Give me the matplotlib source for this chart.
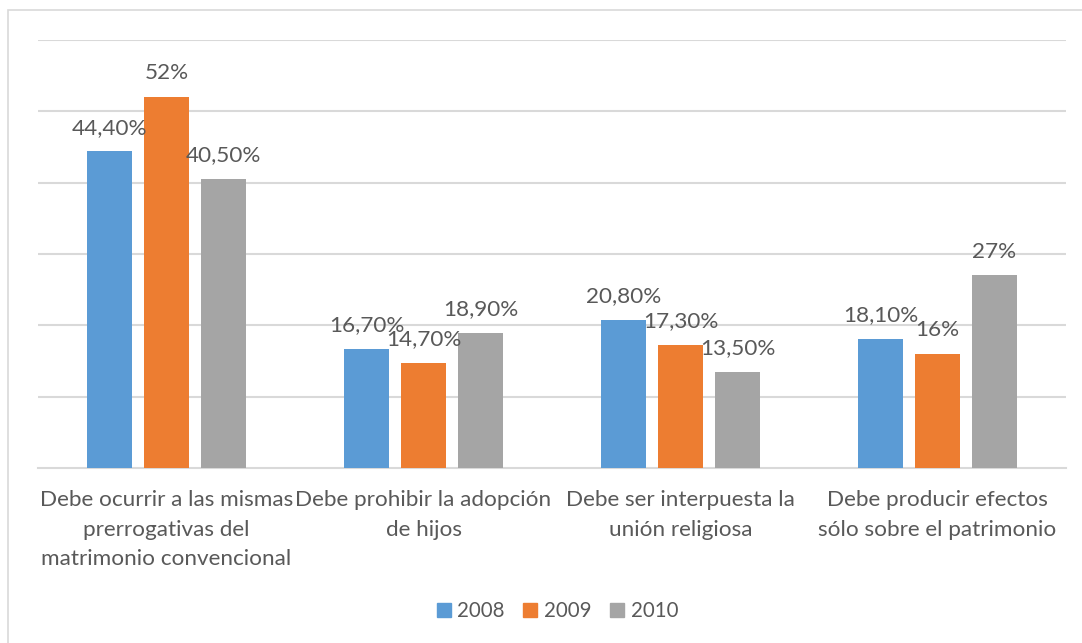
import matplotlib
matplotlib.use("Agg")
import matplotlib.pyplot as plt
from matplotlib.lines import Line2D
from matplotlib.patches import Rectangle

categories = [
    "Debe ocurrir a las mismas\nprerrogativas del\nmatrimonio convencional",
    "Debe prohibir la adopción\nde hijos",
    "Debe ser interpuesta la\nunión religiosa",
    "Debe producir efectos\nsólo sobre el patrimonio",
]
series_names = ["2008", "2009", "2010"]
values_2008 = [44.4, 16.7, 20.8, 18.1]
values_2009 = [52.0, 14.7, 17.3, 16.0]
values_2010 = [40.5, 18.9, 13.5, 27.0]
labels_2008 = ["44,40%", "16,70%", "20,80%", "18,10%"]
labels_2009 = ["52%", "14,70%", "17,30%", "16%"]
labels_2010 = ["40,50%", "18,90%", "13,50%", "27%"]

colors = ["#5B9BD5", "#ED7D31", "#A5A5A5"]
text_color = "#595959"
grid_color = "#D9D9D9"
FONT = "Lato"
FS = 16.2
FS_LEG = 14.8

W, H = 1082, 643
fig = plt.figure(figsize=(W / 100, H / 100), dpi=100)
fig.patch.set_facecolor("white")

# outer chart border (cropped on right/bottom)
fig.patches.append(Rectangle((8 / W, -0.1), 1.2, (H - 10) / H + 0.1,
                             transform=fig.transFigure, fill=False,
                             edgecolor=grid_color, linewidth=1.2))

ax = fig.add_axes([38 / W, (H - 468) / H, 1028 / W, 428 / H])
ax.set_xlim(-0.5, 3.5)
ax.set_ylim(0, 60)
for s in ["top", "right", "left"]:
    ax.spines[s].set_visible(False)
ax.spines["bottom"].set_color(grid_color)
ax.spines["bottom"].set_linewidth(1.5)
ax.set_yticks([10, 20, 30, 40, 50, 60])
ax.yaxis.grid(True, color=grid_color, linewidth=1.5)
ax.set_axisbelow(True)
ax.tick_params(axis="y", left=False, labelleft=False)

bw = 0.175
off = 0.222
data = [values_2008, values_2009, values_2010]
labs = [labels_2008, labels_2009, labels_2010]
for i, (vals, lab) in enumerate(zip(data, labs)):
    xs = [c + (i - 1) * off for c in range(len(categories))]
    ax.bar(xs, vals, width=bw, color=colors[i], zorder=3)
    for x, v, t in zip(xs, vals, lab):
        ax.annotate(t, (x, v), xytext=(0, 17), textcoords="offset points",
                    ha="center", va="center", fontsize=FS, color=text_color,
                    family=FONT, zorder=4)

ax.set_xticks(range(len(categories)))
ax.set_xticklabels(categories, fontsize=FS, color=text_color, family=FONT,
                   linespacing=1.58, va="top")
ax.tick_params(axis="x", bottom=False, pad=12.5)

handles = [Line2D([], [], marker="s", linestyle="none", markersize=10,
                  markerfacecolor=c, markeredgecolor=c) for c in colors]
leg = fig.legend(handles, series_names, loc="center", ncol=3,
                 bbox_to_anchor=(557 / W, (H - 611) / H), frameon=False,
                 prop={"family": FONT, "size": FS_LEG}, handlelength=0.75,
                 handletextpad=0.3, columnspacing=0.85)
for t in leg.get_texts():
    t.set_color(text_color)

fig.savefig("out.png", dpi=100, facecolor="white")
